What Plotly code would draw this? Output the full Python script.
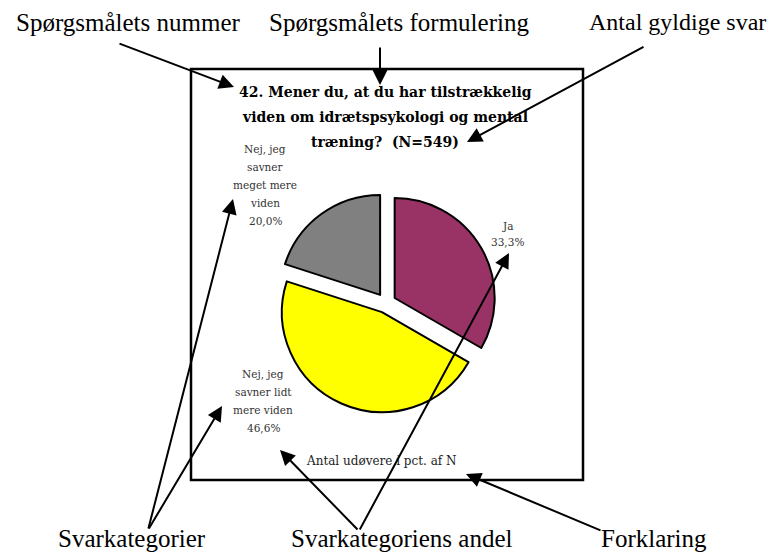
import plotly.graph_objects as go

W, H = 775, 552
OFF = 8  # page body margin offset

# ---- data ----
categories = ["Ja", "Nej, jeg savner lidt mere viden", "Nej, jeg savner meget mere viden"]
values = [33.3, 46.6, 20.0]
colors = ["#993366", "#FFFF00", "#808080"]
label_lines = [["Ja"], ["Nej, jeg", "savner lidt", "mere viden"], ["Nej, jeg", "savner", "meget mere", "viden"]]
title_lines = ["42. Mener du, at du har tilstrækkelig",
               "viden om idrætspsykologi og mental",
               "træning?  (N=549)"]
footnote = "Antal udøvere i pct. af N"
top_labels = ["Spørgsmålets nummer", "Spørgsmålets formulering", "Antal gyldige svar"]
bottom_labels = ["Svarkategorier", "Svarkategoriens andel", "Forklaring"]

def pct(v):
    return f"{v:.1f}".replace(".", ",") + "%"

# ---- layout geometry (screen pixels) ----
cx, cy, r, pull = 386, 303, 100, 0.1
half = r * (1 + pull)
fx, fy = cx - OFF, cy - OFF
dom_x = [(fx - half) / W, (fx + half) / W]
dom_y = [(H - fy - half) / H, (H - fy + half) / H]

fig = go.Figure()
fig.add_trace(go.Pie(
    values=values, labels=categories, sort=False, direction="clockwise", rotation=0,
    marker=dict(colors=colors, line=dict(color="black", width=2)),
    pull=[pull] * len(values), textinfo="none", hoverinfo="label+percent",
    domain=dict(x=dom_x, y=dom_y), showlegend=False))

fig.add_trace(go.Scatter(x=[OFF, W], y=[OFF, H], mode="markers", marker=dict(opacity=0),
                         showlegend=False, hoverinfo="skip"))

ann = []
serif = "'Liberation Serif', 'Times New Roman', Times, serif"
small = dict(family="DejaVu Serif", size=10.5, color="#333333")

for i, t in enumerate(title_lines):
    ann.append(dict(x=385, y=92 + i * 25, text=f"<b>{t}</b>", showarrow=False,
                    font=dict(family="DejaVu Serif", size=14, color="black"),
                    xanchor="center", yanchor="middle"))

label_pos = [(507, 226), (263, 374), (265, 149)]
for lines, v, (lx, ly) in zip(label_lines, values, label_pos):
    step = 16 if len(lines) == 1 else 18
    for j, t in enumerate(lines + [pct(v)]):
        ann.append(dict(x=lx, y=ly + j * step, text=t, showarrow=False, font=small,
                        xanchor="center", yanchor="middle"))

ann.append(dict(x=381, y=461, text=footnote, showarrow=False,
                font=dict(family="DejaVu Serif", size=12, color="#222222"),
                xanchor="center", yanchor="middle"))

for t, x, s in zip(top_labels, [128, 399, 677], [25, 25, 24]):
    ann.append(dict(x=x, y=22, text=t, showarrow=False,
                    font=dict(family=serif, size=s, color="black"),
                    xanchor="center", yanchor="middle"))
for t, x in zip(bottom_labels, [132, 402, 654]):
    ann.append(dict(x=x, y=538, text=t, showarrow=False,
                    font=dict(family=serif, size=25, color="black"),
                    xanchor="center", yanchor="middle"))

arrows = [((118, 43), (234, 87)), ((380, 46), (380, 85)), ((645, 46), (467, 142)),
          ((148, 530), (233, 199)), ((148, 530), (222, 406)),
          ((359, 531), (280, 450)), ((359, 531), (509, 253)),
          ((602, 531), (466, 474))]
for (tx, ty), (hx, hy) in arrows:
    ann.append(dict(x=hx, y=hy, ax=tx, ay=ty, axref="x", ayref="y",
                    text="", showarrow=True, arrowhead=2, arrowsize=1.5, arrowwidth=2,
                    arrowcolor="black"))

for a in ann:
    a.setdefault("xref", "x")
    a.setdefault("yref", "y")

fig.update_layout(
    width=W, height=H, margin=dict(l=0, r=0, t=0, b=0),
    paper_bgcolor="white", plot_bgcolor="rgba(0,0,0,0)",
    xaxis=dict(range=[OFF, W + OFF], visible=False, fixedrange=True),
    yaxis=dict(range=[H + OFF, OFF], visible=False, fixedrange=True),
    annotations=ann,
    shapes=[dict(type="rect", xref="x", yref="y", x0=191, y0=69, x1=583, y1=480,
                 line=dict(color="black", width=2.5), layer="below")],
)

fig.write_html("out.html")
